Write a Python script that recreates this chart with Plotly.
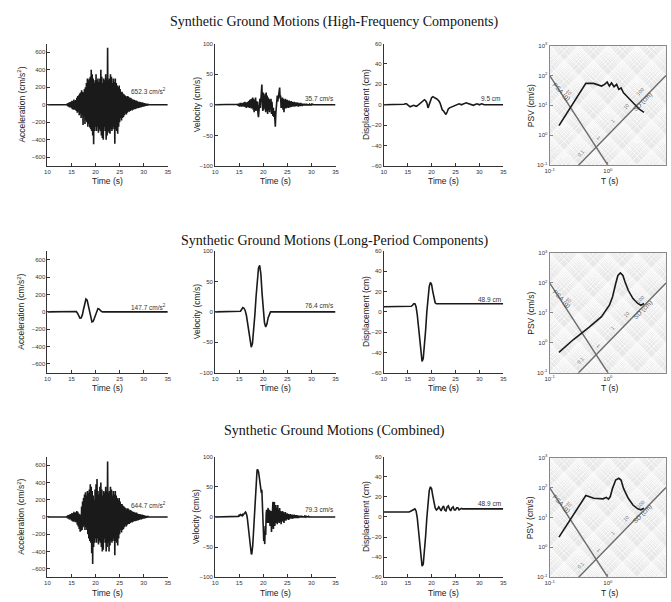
import numpy as np
import plotly.graph_objects as go

W, H = 671, 602

# ------------------------------------------------------------------ data
TIME_RANGE = [10, 35]
TIME_TICKS = [10, 15, 20, 25, 30, 35]

row_titles = ["Synthetic Ground Motions (High-Frequency Components)",
              "Synthetic Ground Motions (Long-Period Components)",
              "Synthetic Ground Motions (Combined)"]

# ---- high-frequency components
hf_acc_t0, hf_acc_dt = 14.0, 0.1
hf_acc = [0, 10, -15, 20, -20, 25, -30, 30, -25, 35,
          -40, 45, -50, 40, -55, 60, -50, 45, -60, 55,
          -70, 80, -90, 100, -80, 110, -120, 130, -100, 140,
          -150, 165, -120, 150, -230, 140, -130, 180, -220, 200,
          -180, 250, -200, 300, -250, 280, -220, 300, -260, 320,
          -280, 400, -300, 350, -350, 300, -450, 250, -300, 280,
          -250, 350, -300, 280, -250, 300, -320, 260, -280, 300,
          -300, 400, -350, 320, -380, 250, -400, 300, -250, 280,
          -300, 350, -400, 300, -350, 652.3, -300, 280, -320, 300,
          -330, 350, -280, 320, -300, 250, -280, 300, -250, 260,
          -445, 300, -280, 250, -300, 220, -330, 200, -250, 220,
          -200, 180, -150, 150, -180, 150, -150, 130, -140, 120,
          -120, 110, -100, 100, -110, 90, -90, 100, -80, 90,
          -80, 75, -70, 80, -60, 70, -65, 60, -55, 60,
          -50, 55, -50, 45, -45, 50, -40, 40, -40, 35,
          -35, 35, -30, 30, -30, 25, -25, 28, -20, 22,
          -20, 18, -15, 15, -12, 12, -10, 8, -6, 5,
          0]

hf_vel_t0, hf_vel_dt = 14.5, 0.1
hf_vel = [0, 1, -1, 2, -2,
          2, -3, 3, -2, 3, -3, 2, -2, 3, -3,
          4, -3, 5, -4, 3, -5, 4, -3, 5, -4,
          6, -5, 8, -4, 9, -6, 10, -5, 12, -8,
          10, -12, 8, -10, 12, -8, 6, -10, 5, -15,
          -20, -10, 5, 10, -5, 15, 25, 33, 10, -10,
          20, -8, 15, -5, 18, -12, 20, -10, 15, -15,
          12, -8, 10, -12, 8, -5, 10, -15, 5, -10,
          -18, -5, -20, -10, -25, -35.7, -15, 5, 10, 15,
          5, 10, 15, 20, 28, 10, 15, -5, 10, -5,
          12, -8, 10, -12, 8, -5, 10, -6, 8, -5,
          8, -4, 6, -5, 7, -3, 5, -4, 6, -3,
          5, -3, 4, -2, 5, -3, 4, -2, 3, -2,
          4, -2, 3, -3, 3, -2, 2, -2, 3, -1,
          2, -2, 2, -1, 2, -1, 2, -1, 1, -1,
          2, -1, 1, -1, 1, 0, 1, -1, 1, 0,
          1, 0, 1, 0, 0, 0, 0, 0, 0, 0, 0]

hf_disp_t0, hf_disp_dt = 14.0, 0.25
hf_disp = [0, 0.5, 1, 1, 0, -1.5, -2, -1.5, -1, -0.5, -1, -1.5,
           -1, 0, 1, 2, 3, 4.5, 5, 4, 2, -3, 0, 5,
           7, 8, 7.5, 6.5, 6, 5, 4, 2, -3, -5, -6, -8,
           -9.5, -7, -4, -3, -2.5, -2, -1.5, -1, -1, 0, 0.5, 1,
           0.5, 0, 0.5, 1, 1.5, 2, 1.5, 1, 1, 0.5, 0, -0.5,
           0, 0.5, 1, 0.5, 0, 0.5, 1, 0.5, 0]

# ---- long-period components
lp_acc_t0, lp_acc_dt = 15.0, 0.25
lp_acc = [0, 2, 5, 8, 5, -15, -45, -72, -70, -35, 30, 105, 147.7, 135,
          75, -5, -80, -115, -110, -70, -20, 20, 38, 32, 15, 3, 0]

lp_vel_t0, lp_vel_dt = 15.0, 0.25
lp_vel = [0, 1, 4, 7, 6, 2, -6, -20, -38, -52, -58, -52, -32, -5,
          25, 55, 72, 76.4, 62, 30, 0, -18, -25, -20, -10, -3, 0]

lp_disp_t0, lp_disp_dt = 14.0, 0.25
lp_disp = [5, 5, 5, 5, 5, 5, 5, 5.5, 6.5, 8, 8, 5, -3, -15, -30, -43,
           -48.9, -46, -35, -18, 0, 15, 25, 29, 27, 20, 13, 9, 8, 8]

# ---- combined
cb_acc_t0, cb_acc_dt = 14.0, 0.1
cb_acc = [0, 10, -15, 20, -20, 25, -30, 30, -25, 35,
          -40, 45, -50, 40, -55, 60, -50, 45, -60, 55,
          -60, 70, -90, 60, -110, 40, -140, 30, -172, 20,
          -160, 120, -150, 180, -120, 220, -100, 260, -150, 286,
          -120, 250, -150, 300, -200, 280, -250, 320, -280, 380,
          -300, 350, -420, 300, -546, 250, -350, 200, -300, 320,
          -250, 380, -300, 440, -250, 300, -320, 260, -280, 350,
          -300, 400, -350, 320, -400, 250, -380, 300, -250, 280,
          -300, 350, -400, 300, -350, 644.7, -300, 280, -400, 300,
          -330, 350, -280, 320, -300, 250, -280, 300, -250, 260,
          -445, 300, -280, 250, -300, 220, -330, 200, -250, 220,
          -200, 180, -150, 150, -180, 150, -150, 130, -140, 120,
          -120, 110, -100, 100, -110, 90, -90, 100, -80, 90,
          -80, 75, -70, 80, -60, 70, -65, 60, -55, 60,
          -50, 55, -50, 45, -45, 50, -40, 40, -40, 35,
          -35, 35, -30, 30, -30, 25, -25, 28, -20, 22,
          -20, 18, -15, 15, -12, 12, -10, 8, -6, 5,
          0]

cb_vel_t0, cb_vel_dt = 14.5, 0.1
cb_vel = [0, 0, 1, 1, 2,
          3, 2, 3, 4, 3, 3, 2, 4, 3, 4,
          5, 7, 8, 8, 7, 5, 2, -3, -10, -18,
          -27, -36, -45, -52, -58, -61, -62, -57, -48, -35,
          -20, -5, 10, 28, 45, 60, 70, 77, 79.3, 78,
          75, 70, 62, 65, 52, 50, 40, 45, 20, -5,
          -30, -40, -25, -45, -15, -30, 5, 12, -10, 10,
          15, -10, 5, 12, -15, -5, 10, -25, 8, -10,
          25, -20, 10, 25, -15, 5, 20, -10, 15, -12,
          20, -8, 12, -10, 15, -8, 10, -12, 8, -6,
          10, -8, 8, -10, 6, -5, 8, -6, 5, -4,
          6, -4, 5, -5, 4, -3, 5, -3, 4, -3,
          4, -3, 3, -2, 4, -2, 3, -2, 3, -2,
          3, -2, 2, -2, 2, -1, 2, -1, 2, -1,
          2, -1, 1, -1, 1, -1, 1, 0, 1, 0,
          1, 0, 1, 0, 1, 0, 0, 0, 0, 0,
          0, 0, 0, 0, 0, 0, 0, 0, 0, 0, 0]

cb_disp_t0, cb_disp_dt = 14.0, 0.25
cb_disp = [5, 4.5, 4.5, 5, 5, 5, 5.5, 6, 6.5, 7.5, 8, 6,
           -1, -13, -28, -42, -48.9, -47, -36, -19, -1, 15, 26, 30,
           28, 21, 14, 9, 7, 8, 10, 7, 6, 9, 11, 7,
           6, 10, 11, 8, 6, 9, 10, 7, 7, 9, 9, 7,
           8, 8.5, 8, 8, 8]

# ---- pseudo-spectral velocity (cm/s) vs period (s)
psv_T_hf = [0.145, 0.419, 0.571, 0.689, 0.78, 0.883, 0.975, 1.064, 1.16,
            1.28, 1.416, 1.545, 1.687, 1.862, 2.388, 2.877, 3.475, 4.188]
psv_hf = [2.1, 54, 54, 47, 44, 50, 60, 44, 56, 42, 50, 34, 38, 26, 16, 11, 7.4, 5.8]

psv_T_lp = [0.145, 0.254, 0.474, 0.78, 1.064, 1.205, 1.365, 1.49, 1.644,
            1.815, 1.98, 2.244, 2.704, 3.266, 3.698, 4.188]
psv_lp = [0.48, 1.26, 3.3, 7.5, 18, 34, 94, 178, 218, 178, 107, 57, 30, 20.6, 18, 20.6]

psv_T_cb = [0.145, 0.419, 0.571, 0.689, 0.83, 0.94, 1.026, 1.104, 1.205,
            1.365, 1.545, 1.687, 1.862, 2.244, 2.704, 3.266, 3.698, 4.188]
psv_cb = [2.2, 54, 44, 42, 42, 47, 41, 50, 94, 178, 204, 178, 94, 44, 26, 19.5, 18, 20.4]

# reference lines of the tripartite chart
ref_T = [0.1, 10]
ref_desc = [100, 0.0001]
ref_asc = [0.01, 100]
ref_desc_label, ref_asc_label = "PSA (g)", "SD (cm)"
ref_desc_tick_T = [0.175, 0.571, 1.75, 3.27]
ref_desc_tick_txt = ["10", "1", "0.1", "0.01"]
ref_asc_tick_T = [0.419, 1.45, 2.54, 4.46]
ref_asc_tick_txt = ["0.1", "1", "10", "100"]

psv_x_ticks = [0.1, 1, 10]
psv_x_text = ["10<sup>-1</sup>", "10<sup>0</sup>", "10<sup>1</sup>"]
psv_y_ticks = [0.1, 1, 10, 100, 1000]
psv_y_text = ["10<sup>-1</sup>", "10<sup>0</sup>", "10<sup>1</sup>", "10<sup>2</sup>", "10<sup>3</sup>"]

acc_ticks = [-600, -400, -200, 0, 200, 400, 600]
vel_ticks = [-100, -50, 0, 50, 100]
disp_ticks = [-60, -40, -20, 0, 20, 40, 60]

peak_labels = [["652.3 cm/s<sup>2</sup>", "35.7 cm/s", "9.5 cm"],
               ["147.7 cm/s<sup>2</sup>", "76.4 cm/s", "48.9 cm"],
               ["644.7 cm/s<sup>2</sup>", "79.3 cm/s", "48.9 cm"]]
peak_label_y = [[160, 10, 6], [55, 10, 12], [140, 12, 13]]

y_titles = ["Acceleration (cm/s<sup>2</sup>)", "Velocity (cm/s)", "Displacement (cm)", "PSV (cm/s)"]

# ------------------------------------------------------------------ layout geometry (pixels)
ts_rows = [(40, 164), (250, 373), (458, 580)]
psv_rows = [(42, 163), (252, 373), (459, 580)]
cols = [(43, 165), (213, 335), (384, 505), (552, 670)]
title_y = [18, 240, 432]
xlabel_y = [179, 389, 596]
ytitle_x = [17, 194, 366, 533]

SANS = "Liberation Sans"
SERIF = "Liberation Serif"
INK = "#1a1a1a"
AX = "#333333"


def px(x):
    return x / W


def py(y):
    return 1 - y / H


def series(t0, dt, vals):
    t = [round(t0 + i * dt, 4) for i in range(len(vals))]
    return [TIME_RANGE[0]] + t + [TIME_RANGE[1]], [vals[0]] + list(vals) + [vals[-1]]


def names(k):
    xa = "x" if k == 1 else f"x{k}"
    ya = "y" if k == 1 else f"y{k}"
    xl = "xaxis" if k == 1 else f"xaxis{k}"
    yl = "yaxis" if k == 1 else f"yaxis{k}"
    return xa, ya, xl, yl


ts_data = [
    [(hf_acc_t0, hf_acc_dt, hf_acc), (hf_vel_t0, hf_vel_dt, hf_vel), (hf_disp_t0, hf_disp_dt, hf_disp)],
    [(lp_acc_t0, lp_acc_dt, lp_acc), (lp_vel_t0, lp_vel_dt, lp_vel), (lp_disp_t0, lp_disp_dt, lp_disp)],
    [(cb_acc_t0, cb_acc_dt, cb_acc), (cb_vel_t0, cb_vel_dt, cb_vel), (cb_disp_t0, cb_disp_dt, cb_disp)],
]
psv_data = [(psv_T_hf, psv_hf), (psv_T_lp, psv_lp), (psv_T_cb, psv_cb)]
ts_yaxes = [([-700, 700], acc_ticks), ([-100, 100], vel_ticks), ([-60, 60], disp_ticks)]

fig = go.Figure()
layout = {}
annotations = []
shapes = []

# background grid offsets (log10 PSV at log10 T = 0) for the tripartite paper
grid_offsets = [n + np.log10(m) for n in range(-3, 6) for m in range(1, 10)]

for r in range(3):
    for c in range(4):
        k = r * 4 + c + 1
        xa, ya, xl, yl = names(k)
        if c < 3:
            top, bot = ts_rows[r]
            t0, dt, vals = ts_data[r][c]
            xs, ys = series(t0, dt, vals)
            fig.add_trace(go.Scatter(x=xs, y=ys, mode="lines", xaxis=xa, yaxis=ya,
                                     line=dict(color=INK, width=1.6), hoverinfo="skip",
                                     showlegend=False))
            yr, yt = ts_yaxes[c]
            layout[xl] = dict(domain=[px(cols[c][0]), px(cols[c][1])], anchor=ya,
                              range=TIME_RANGE, tickvals=TIME_TICKS,
                              showline=True, linecolor=AX, linewidth=1, mirror=False,
                              ticks="inside", ticklen=3, tickcolor=AX, showgrid=False,
                              zeroline=False, tickfont=dict(family=SANS, size=6, color=AX))
            layout[yl] = dict(domain=[py(bot), py(top)], anchor=xa, range=yr, tickvals=yt,
                              showline=True, linecolor=AX, linewidth=1, mirror=False,
                              ticks="inside", ticklen=3, tickcolor=AX, showgrid=False,
                              zeroline=False, tickfont=dict(family=SANS, size=6, color=AX))
            annotations.append(dict(x=TIME_RANGE[1], y=peak_label_y[r][c], xref=xa, yref=ya,
                                    text=peak_labels[r][c], showarrow=False, xanchor="right",
                                    yanchor="middle", font=dict(family=SANS, size=6.5, color="#333")))
            annotations.append(dict(x=px((cols[c][0] + cols[c][1]) / 2), y=py(xlabel_y[r]),
                                    xref="paper", yref="paper", text="Time (s)", showarrow=False,
                                    xanchor="center", yanchor="middle",
                                    font=dict(family=SANS, size=8.5, color="#222")))
            annotations.append(dict(x=px(ytitle_x[c]), y=py((top + bot) / 2), xref="paper",
                                    yref="paper", text=y_titles[c], textangle=-90, showarrow=False,
                                    xanchor="center", yanchor="middle",
                                    font=dict(family=SANS, size=8.5, color="#222")))
        else:
            top, bot = psv_rows[r]
            shapes.append(dict(type="rect", xref=f"{xa} domain", yref=f"{ya} domain",
                               x0=0, x1=1, y0=0, y1=1, fillcolor="#e8e8e8",
                               line=dict(width=0), layer="below"))
            for sgn in (2, -2):
                gx, gy = [], []
                for off in grid_offsets:
                    gx += [ref_T[0], ref_T[1], None]
                    gy += [10 ** (off - sgn), 10 ** (off + sgn), None]
                fig.add_trace(go.Scatter(x=gx, y=gy, mode="lines", xaxis=xa, yaxis=ya,
                                         line=dict(color="white", width=0.8),
                                         hoverinfo="skip", showlegend=False))
            fig.add_trace(go.Scatter(x=ref_T, y=ref_desc, mode="lines", xaxis=xa, yaxis=ya,
                                     line=dict(color="#6a6a6a", width=1.4), hoverinfo="skip",
                                     showlegend=False))
            fig.add_trace(go.Scatter(x=ref_T, y=ref_asc, mode="lines", xaxis=xa, yaxis=ya,
                                     line=dict(color="#6a6a6a", width=1.4), hoverinfo="skip",
                                     showlegend=False))
            T, V = psv_data[r]
            fig.add_trace(go.Scatter(x=T, y=V, mode="lines", xaxis=xa, yaxis=ya,
                                     line=dict(color=INK, width=1.6), hoverinfo="skip",
                                     showlegend=False))
            layout[xl] = dict(domain=[px(cols[c][0]), px(cols[c][1])], anchor=ya, type="log",
                              range=[-1, 1], tickvals=psv_x_ticks, ticktext=psv_x_text,
                              showline=True, linecolor="#888", linewidth=1, mirror=True,
                              ticks="inside", ticklen=3, tickcolor="#888", showgrid=False,
                              zeroline=False, tickfont=dict(family=SANS, size=6, color=AX))
            layout[yl] = dict(domain=[py(bot), py(top)], anchor=xa, type="log",
                              range=[-1, 3], tickvals=psv_y_ticks, ticktext=psv_y_text,
                              showline=True, linecolor="#888", linewidth=1, mirror=True,
                              ticks="inside", ticklen=3, tickcolor="#888", showgrid=False,
                              zeroline=False, tickfont=dict(family=SANS, size=6, color=AX))
            # labels on the reference lines
            annotations.append(dict(x=np.log10(0.16), y=np.log10(28), xref=xa, yref=ya,
                                    text=ref_desc_label, textangle=45, showarrow=False,
                                    font=dict(family=SANS, size=6.5, color="#555")))
            annotations.append(dict(x=np.log10(3.98), y=np.log10(12.6), xref=xa, yref=ya,
                                    text=ref_asc_label, textangle=-45, showarrow=False,
                                    font=dict(family=SANS, size=6.5, color="#555")))
            for tT, tt in zip(ref_desc_tick_T, ref_desc_tick_txt):
                vv = np.interp(np.log10(tT), np.log10(ref_T), np.log10(ref_desc))
                annotations.append(dict(x=np.log10(tT), y=vv, xref=xa, yref=ya, text=tt,
                                        textangle=45, showarrow=False, xshift=5, yshift=5,
                                        font=dict(family=SANS, size=5, color="#777")))
            for tT, tt in zip(ref_asc_tick_T, ref_asc_tick_txt):
                vv = np.interp(np.log10(tT), np.log10(ref_T), np.log10(ref_asc))
                annotations.append(dict(x=np.log10(tT), y=vv, xref=xa, yref=ya, text=tt,
                                        textangle=-45, showarrow=False, xshift=-5, yshift=5,
                                        font=dict(family=SANS, size=5, color="#777")))
            annotations.append(dict(x=px((cols[c][0] + 674) / 2), y=py(xlabel_y[r]),
                                    xref="paper", yref="paper", text="T (s)", showarrow=False,
                                    xanchor="center", yanchor="middle",
                                    font=dict(family=SANS, size=8.5, color="#222")))
            annotations.append(dict(x=px(ytitle_x[c]), y=py((top + bot) / 2), xref="paper",
                                    yref="paper", text=y_titles[c], textangle=-90, showarrow=False,
                                    xanchor="center", yanchor="middle",
                                    font=dict(family=SANS, size=8.5, color="#222")))

for r in range(3):
    annotations.append(dict(x=px(334), y=py(title_y[r]), xref="paper", yref="paper",
                            text=row_titles[r], showarrow=False, xanchor="center",
                            yanchor="middle", font=dict(family=SERIF, size=14, color="#111")))

fig.update_layout(width=W, height=H, margin=dict(l=0, r=0, t=0, b=0),
                  paper_bgcolor="white", plot_bgcolor="white",
                  annotations=annotations, shapes=shapes, **layout)

fig.write_html("out.html")
